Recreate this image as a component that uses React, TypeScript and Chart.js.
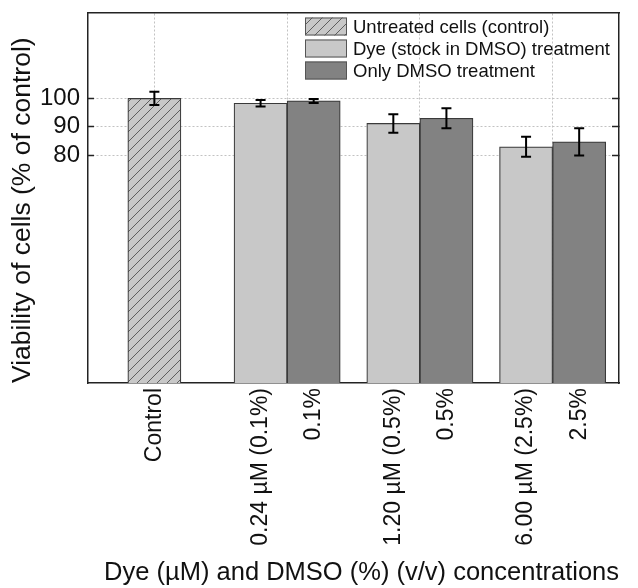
import React, { useEffect, useRef } from 'react';
import { Chart, registerables } from 'chart.js';

Chart.register(...registerables);

// ---------- data ----------
const seriesNames = ['Untreated cells (control)', 'Dye (stock in DMSO) treatment', 'Only DMSO treatment'];

const controlLabels = ['Control'];
const controlValues = [100.0];
const controlErrors = [2.3];

const dyeLabels = ['0.24 µM (0.1%)', '1.20 µM (0.5%)', '6.00 µM (2.5%)'];
const dyeValues = [98.3, 91.2, 83.0];
const dyeErrors = [1.15, 3.25, 3.5];

const dmsoLabels = ['0.1%', '0.5%', '2.5%'];
const dmsoValues = [99.1, 93.0, 84.7];
const dmsoErrors = [0.7, 3.5, 4.8];

const yTicks = [80, 90, 100];
const yMin = 0;
const yMax = 130;

const xTitle = 'Dye (µM) and DMSO (%) (v/v) concentrations';
const yTitle = 'Viability of cells (% of control)';

// group slots on the numeric x axis
const controlSlots = [1];
const treatmentSlots = [2, 3, 4];
const pairHalf = 0.2;
const xMin = 0.5;
const xMax = 4.5;

// ---------- derived ----------
const controlPoints = controlValues.map((v, i) => ({ x: controlSlots[i], y: v }));
const dyePoints = dyeValues.map((v, i) => ({ x: treatmentSlots[i] - pairHalf, y: v }));
const dmsoPoints = dmsoValues.map((v, i) => ({ x: treatmentSlots[i] + pairHalf, y: v }));

const tickEntries = [
  ...controlPoints.map((p, i) => ({ value: p.x, label: controlLabels[i] })),
  ...dyePoints.map((p, i) => ({ value: p.x, label: dyeLabels[i] })),
  ...dmsoPoints.map((p, i) => ({ value: p.x, label: dmsoLabels[i] })),
].sort((a, b) => a.value - b.value);

const FONT = '"Liberation Sans", Arial, Helvetica, sans-serif';
const TEXT = '#111111';
const AXIS = '#232323';
const GRID = '#c2c2c2';

function makeHatch(): CanvasPattern | string {
  const c = document.createElement('canvas');
  const s = 10;
  c.width = s;
  c.height = s;
  const g = c.getContext('2d');
  if (!g) return '#c8c8c8';
  g.fillStyle = '#c8c8c8';
  g.fillRect(0, 0, s, s);
  g.strokeStyle = '#5e5e5e';
  g.lineWidth = 1;
  g.beginPath();
  g.moveTo(0, s);
  g.lineTo(s, 0);
  g.moveTo(-2, 2);
  g.lineTo(2, -2);
  g.moveTo(s - 2, s + 2);
  g.lineTo(s + 2, s - 2);
  g.stroke();
  return g.createPattern(c, 'repeat') || '#c8c8c8';
}

const errorBarPlugin = {
  id: 'errorBars',
  afterDatasetsDraw(chart: any) {
    const ctx = chart.ctx;
    const yScale = chart.scales.y;
    chart.data.datasets.forEach((ds: any, i: number) => {
      const meta = chart.getDatasetMeta(i);
      meta.data.forEach((bar: any, j: number) => {
        const v = ds.data[j].y;
        const e = ds.errors[j];
        const yTop = yScale.getPixelForValue(v + e);
        const yBot = yScale.getPixelForValue(v - e);
        const cap = 5;
        ctx.save();
        ctx.strokeStyle = '#000';
        ctx.lineWidth = 2;
        ctx.beginPath();
        ctx.moveTo(bar.x, yTop);
        ctx.lineTo(bar.x, yBot);
        ctx.moveTo(bar.x - cap, yTop);
        ctx.lineTo(bar.x + cap, yTop);
        ctx.moveTo(bar.x - cap, yBot);
        ctx.lineTo(bar.x + cap, yBot);
        ctx.stroke();
        ctx.restore();
      });
    });
  },
};

const insideLegendPlugin = {
  id: 'insideLegend',
  afterDraw(chart: any) {
    const { ctx, chartArea } = chart;
    const x0 = chartArea.right - 314;
    const y0 = chartArea.top + 13.5;
    const rowH = 22;
    const sw = 42;
    const sh = 18;
    ctx.save();
    ctx.font = `18.5px ${FONT}`;
    ctx.textBaseline = 'middle';
    ctx.textAlign = 'left';
    chart.data.datasets.forEach((ds: any, i: number) => {
      const cy = y0 + i * rowH;
      ctx.fillStyle = ds.backgroundColor;
      ctx.fillRect(x0, cy - sh / 2, sw, sh);
      ctx.strokeStyle = '#555';
      ctx.lineWidth = 1;
      ctx.strokeRect(x0 + 0.5, cy - sh / 2 + 0.5, sw - 1, sh - 1);
      ctx.fillStyle = TEXT;
      ctx.fillText(ds.label, x0 + 48, cy + 1);
    });
    ctx.restore();
  },
};

const noPad = (s: any) => {
  s.paddingTop = 0;
  s.paddingBottom = 0;
  s.paddingLeft = 0;
  s.paddingRight = 0;
};

export default function App() {
  const ref = useRef<HTMLCanvasElement | null>(null);

  useEffect(() => {
    if (!ref.current) return;
    const hatch = makeHatch();
    const barCommon = {
      grouped: false,
      barPercentage: 1,
      categoryPercentage: 1,
      borderColor: '#3a3a3a',
      borderWidth: 1.2,
      borderSkipped: 'start',
    };
    const chart = new Chart(ref.current, {
      type: 'bar',
      data: {
        datasets: [
          { ...barCommon, label: seriesNames[0], data: controlPoints, backgroundColor: hatch, errors: controlErrors } as any,
          { ...barCommon, label: seriesNames[1], data: dyePoints, backgroundColor: '#c8c8c8', errors: dyeErrors } as any,
          { ...barCommon, label: seriesNames[2], data: dmsoPoints, backgroundColor: '#828282', errors: dmsoErrors } as any,
        ],
      },
      options: {
        responsive: false,
        animation: false,
        events: [],
        layout: { padding: { left: 0, right: 19, top: 13, bottom: 0 } },
        plugins: { legend: { display: false }, tooltip: { enabled: false } },
        scales: {
          x: {
            type: 'linear',
            position: 'bottom',
            min: xMin,
            max: xMax,
            offset: false,
            grid: { display: false, drawTicks: false, offset: false },
            border: { display: true, color: AXIS, width: 1.5 },
            afterBuildTicks: (s: any) => {
              s.ticks = tickEntries.map((t) => ({ value: t.value }));
            },
            ticks: {
              autoSkip: false,
              minRotation: 90,
              maxRotation: 90,
              padding: 5,
              color: TEXT,
              font: { family: FONT, size: 23 },
              callback: (v: any) => {
                const t = tickEntries.find((e) => Math.abs(e.value - Number(v)) < 1e-6);
                return t ? t.label : '';
              },
            },
            title: {
              display: true,
              text: xTitle,
              align: 'end',
              color: TEXT,
              font: { family: FONT, size: 25.5 },
              padding: { top: 0, bottom: 0 },
            },
            afterFit: (s: any) => {
              s.height = 205;
              noPad(s);
            },
          },
          x2: {
            type: 'linear',
            position: 'top',
            min: xMin,
            max: xMax,
            offset: false,
            grid: { display: true, drawTicks: false, offset: false, color: GRID, lineWidth: 1 },
            border: { display: true, color: AXIS, width: 1.5, dash: [2, 2] },
            ticks: { display: false },
            afterBuildTicks: (s: any) => {
              s.ticks = [...controlSlots, ...treatmentSlots].map((v) => ({ value: v }));
            },
            afterFit: (s: any) => {
              s.height = 0;
              noPad(s);
            },
          },
          y: {
            type: 'linear',
            position: 'left',
            min: yMin,
            max: yMax,
            grid: { color: GRID, lineWidth: 1, drawTicks: true, tickLength: -6, tickColor: AXIS, tickWidth: 1.5 },
            border: { display: true, color: AXIS, width: 1.5, dash: [2, 2] },
            afterBuildTicks: (s: any) => {
              s.ticks = yTicks.map((v) => ({ value: v }));
            },
            ticks: {
              padding: 14,
              color: TEXT,
              font: { family: FONT, size: 24 },
            },
            title: {
              display: true,
              text: yTitle,
              align: 'start',
              color: TEXT,
              font: { family: FONT, size: 26.5 },
              padding: { top: 7, bottom: 0 },
            },
            afterFit: (s: any) => {
              s.width = 88;
              noPad(s);
            },
          },
          y2: {
            type: 'linear',
            position: 'right',
            min: yMin,
            max: yMax,
            grid: { drawOnChartArea: false, drawTicks: true, tickLength: -7, tickColor: AXIS, tickWidth: 1.5 },
            border: { display: true, color: AXIS, width: 1.5 },
            ticks: { display: false },
            afterBuildTicks: (s: any) => {
              s.ticks = yTicks.map((v) => ({ value: v }));
            },
            afterFit: (s: any) => {
              s.width = 0;
              noPad(s);
            },
          },
        },
      } as any,
      plugins: [errorBarPlugin, insideLegendPlugin],
    });
    return () => chart.destroy();
  }, []);

  return (
    <div style={{ position: 'fixed', left: 0, top: 0, width: 638, height: 588, background: '#fff' }}>
      <canvas ref={ref} width={638} height={588} style={{ display: 'block', width: 638, height: 588 }} />
    </div>
  );
}
